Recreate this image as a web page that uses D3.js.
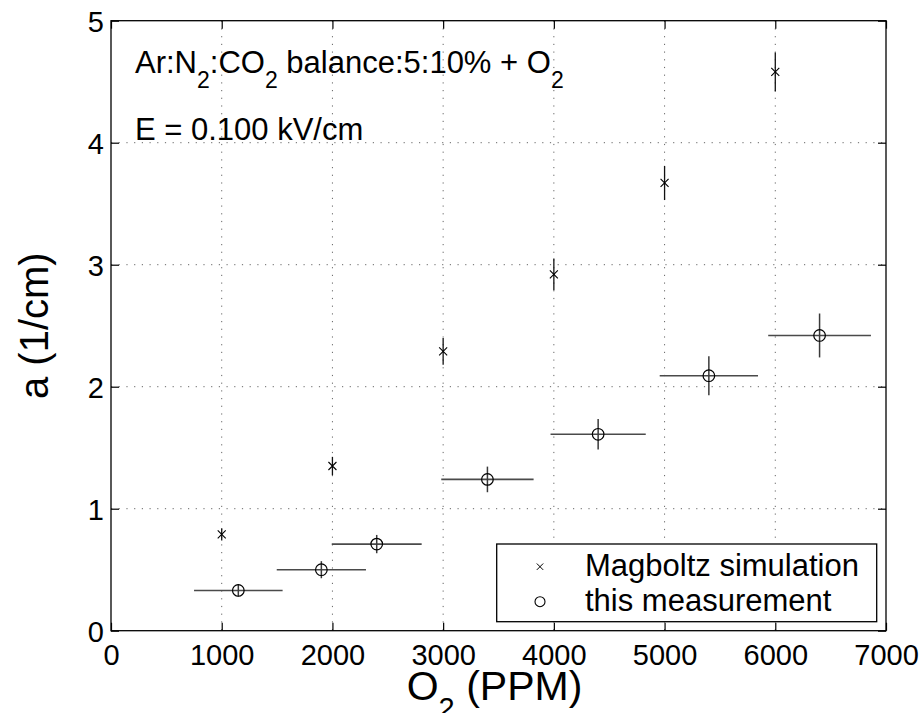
<!DOCTYPE html>
<html>
<head>
<meta charset="utf-8">
<script src="https://cdn.jsdelivr.net/npm/d3@7"></script>
<style>
  html, body { margin: 0; padding: 0; background: #fff; }
  svg { display: block; }
  text { font-family: "Liberation Sans", Arial, Helvetica, sans-serif; fill: #000; }
</style>
</head>
<body>
<svg id="chart" width="922" height="713"></svg>
<script>
// Magboltz simulation: attachment coefficient vs O2 concentration
const simO2 = [1000, 2000, 3000, 4000, 5000, 6000];
const simA = [0.79, 1.35, 2.29, 2.92, 3.67, 4.58];
const simAErr = [0.05, 0.075, 0.11, 0.13, 0.14, 0.16];

// Measured points with O2 uncertainty (horizontal) and a uncertainty (vertical)
const measO2 = [1150, 1900, 2400, 3400, 4400, 5400, 6400];
const measO2Err = [400, 403, 406, 417, 430, 444, 464];
const measA = [0.33, 0.50, 0.71, 1.24, 1.61, 2.09, 2.42];
const measAErr = [0.05, 0.07, 0.075, 0.105, 0.125, 0.16, 0.18];

const xTicks = [0, 1000, 2000, 3000, 4000, 5000, 6000, 7000];
const yTicks = [0, 1, 2, 3, 4, 5];
const legendLabels = ["Magboltz simulation", "this measurement"];

const W = 922, H = 713;
const margin = { left: 111, top: 20.7, right: 922 - 886, bottom: 713 - 630.7 };
const iw = W - margin.left - margin.right;
const ih = H - margin.top - margin.bottom;

const svg = d3.select("#chart");
const g = svg.append("g").attr("transform", `translate(${margin.left},${margin.top})`);

const x = d3.scaleLinear().domain([0, 7000]).range([0, iw]);
const y = d3.scaleLinear().domain([0, 5]).range([ih, 0]);

// Dotted grid
const grid = g.append("g").attr("class", "grid")
  .attr("stroke", "#666").attr("stroke-width", 1).attr("stroke-dasharray", "1.2,6.5");
grid.selectAll("line.gx").data(xTicks.slice(1, -1)).join("line")
  .attr("x1", d => x(d)).attr("x2", d => x(d)).attr("y1", 0).attr("y2", ih);
grid.selectAll("line.gy").data(yTicks.slice(1, -1)).join("line")
  .attr("x1", 0).attr("x2", iw).attr("y1", d => y(d)).attr("y2", d => y(d));

// Axes with inward ticks
const tickLen = 8;
const fs = 29;
const xAxis = g.append("g").attr("transform", `translate(0,${ih})`)
  .call(d3.axisBottom(x).tickValues(xTicks).tickSizeInner(-tickLen).tickSizeOuter(0).tickPadding(14).tickFormat(d3.format("d")));
const xAxisTop = g.append("g")
  .call(d3.axisTop(x).tickValues(xTicks).tickSizeInner(-tickLen).tickSizeOuter(0).tickFormat(""));
const yAxis = g.append("g")
  .call(d3.axisLeft(y).tickValues(yTicks).tickSizeInner(-tickLen).tickSizeOuter(0).tickPadding(7).tickFormat(d3.format("d")));
const yAxisRight = g.append("g").attr("transform", `translate(${iw},0)`)
  .call(d3.axisRight(y).tickValues(yTicks).tickSizeInner(-tickLen).tickSizeOuter(0).tickFormat(""));

[xAxis, xAxisTop, yAxis, yAxisRight].forEach(a => {
  a.select(".domain").remove();
  a.selectAll(".tick line").attr("stroke", "#000").attr("stroke-width", 1.2);
  a.selectAll("text").style("font-size", fs + "px").attr("fill", "#000");
});
yAxis.selectAll("text").attr("dy", "0.38em");

// Box frame
g.append("rect").attr("x", 0).attr("y", 0).attr("width", iw).attr("height", ih)
  .attr("fill", "none").attr("stroke", "#000").attr("stroke-width", 1.3);

// Magboltz error bars and x markers
const sim = simO2.map((o, i) => ({ o, a: simA[i], e: simAErr[i] }));
const simG = g.append("g");
simG.selectAll("line.err").data(sim).join("line")
  .attr("x1", d => x(d.o)).attr("x2", d => x(d.o))
  .attr("y1", d => y(d.a - d.e)).attr("y2", d => y(d.a + d.e))
  .attr("stroke", "#111").attr("stroke-width", 1.3);
const xm = 4;
simG.selectAll("path.mk").data(sim).join("path")
  .attr("d", d => {
    const cx = x(d.o), cy = y(d.a);
    return `M${cx - xm},${cy - xm}L${cx + xm},${cy + xm}M${cx - xm},${cy + xm}L${cx + xm},${cy - xm}`;
  })
  .attr("stroke", "#000").attr("stroke-width", 1.1).attr("fill", "none");

// Measurement error bars and circle markers
const meas = measO2.map((o, i) => ({ o, oe: measO2Err[i], a: measA[i], ae: measAErr[i] }));
const measG = g.append("g");
measG.selectAll("line.h").data(meas).join("line")
  .attr("x1", d => x(d.o - d.oe)).attr("x2", d => x(d.o + d.oe))
  .attr("y1", d => y(d.a)).attr("y2", d => y(d.a))
  .attr("stroke", "#4a4a4a").attr("stroke-width", 1.6);
measG.selectAll("line.v").data(meas).join("line")
  .attr("x1", d => x(d.o)).attr("x2", d => x(d.o))
  .attr("y1", d => y(d.a - d.ae)).attr("y2", d => y(d.a + d.ae))
  .attr("stroke", "#3a3a3a").attr("stroke-width", 1.5);
measG.selectAll("circle").data(meas).join("circle")
  .attr("cx", d => x(d.o)).attr("cy", d => y(d.a)).attr("r", 5.8)
  .attr("fill", "none").attr("stroke", "#000").attr("stroke-width", 1.2);

// Annotations
const ann = g.append("g").style("font-size", "31px");
const t1 = ann.append("text").attr("x", 135 - margin.left).attr("y", 73.3 - margin.top);
const subFs = "23px";
[["Ar:N", false], ["2", true], [":CO", false], ["2", true], [" balance:5:10% + O", false], ["2", true]]
  .forEach(([s, sub], i, arr) => {
    const prevSub = i > 0 && arr[i - 1][1];
    const sp = t1.append("tspan").text(s);
    if (sub) sp.attr("dy", 15).style("font-size", subFs);
    else if (prevSub) sp.attr("dy", -15);
  });
ann.append("text").attr("x", 135 - margin.left).attr("y", 140 - margin.top)
  .text("E = 0.100 kV/cm");

// Legend
const lg = svg.append("g");
lg.append("rect").attr("x", 496.7).attr("y", 544).attr("width", 380).attr("height", 77.7)
  .attr("fill", "#fff").attr("stroke", "#000").attr("stroke-width", 1.3);
const lx = 540, ly = [566.7, 601.7];
const lm = 3.2;
lg.append("path")
  .attr("d", `M${lx - lm},${ly[0] - lm}L${lx + lm},${ly[0] + lm}M${lx - lm},${ly[0] + lm}L${lx + lm},${ly[0] - lm}`)
  .attr("stroke", "#000").attr("stroke-width", 1);
lg.append("circle").attr("cx", lx).attr("cy", ly[1]).attr("r", 5)
  .attr("fill", "none").attr("stroke", "#000").attr("stroke-width", 1.1);
lg.selectAll("text").data(legendLabels).join("text")
  .attr("x", 585).attr("y", (d, i) => ly[i] + 9)
  .style("font-size", "31px").text(d => d);

// Axis titles
const xt = svg.append("text").attr("x", margin.left + iw / 2 - 4).attr("y", 700)
  .attr("text-anchor", "middle").style("font-size", "41px");
xt.append("tspan").text("O");
xt.append("tspan").text("2").attr("dy", 18).style("font-size", "29px");
xt.append("tspan").text(" (PPM)").attr("dy", -18);

svg.append("text")
  .attr("transform", `translate(48,${margin.top + ih / 2}) rotate(-90)`)
  .attr("text-anchor", "middle").style("font-size", "40px")
  .text("a (1/cm)");
</script>
</body>
</html>
